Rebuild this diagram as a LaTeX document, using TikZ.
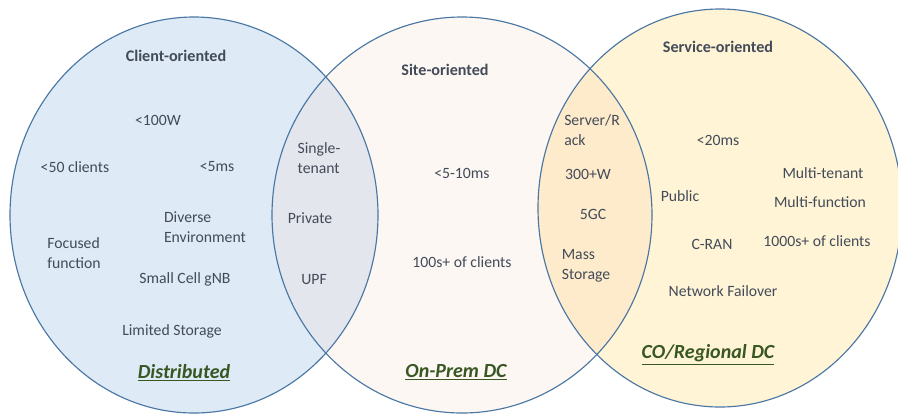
\documentclass[tikz,border=0pt]{standalone}
\usepackage{fontspec}
\setmainfont{Carlito}
\usepackage{xcolor}

\definecolor{distblue}{HTML}{DEEBF7}
\definecolor{prempink}{HTML}{FCF7F3}
\definecolor{coyellow}{HTML}{FFF4D6}
\definecolor{lensgray}{HTML}{E3E6EC}
\definecolor{lenspeach}{HTML}{FEEBCB}
\definecolor{rimblue}{HTML}{4A77A3}
\definecolor{txtgray}{HTML}{434B59}
\definecolor{tagreen}{HTML}{385723}

\tikzset{
  txt/.style={text=txtgray, inner sep=1pt, font=\fontsize{11}{14}\selectfont},
  txtl/.style={txt, align=left},
  head/.style={text=txtgray, inner sep=1pt, font=\fontsize{11.3}{13}\selectfont\bfseries},
  tag/.style={text=tagreen, inner sep=1pt, font=\fontsize{14}{16}\selectfont\bfseries\itshape}
}

\begin{document}
\begin{tikzpicture}[x=0.7pt, y=-0.7pt]
\useasboundingbox (0,0) rectangle (898,414);
\begin{scope}
\clip (0,0) rectangle (898,414);
% circle fills
\fill[distblue] (194,215) ellipse [x radius=184, y radius=198];
\fill[prempink] (462,215) ellipse [x radius=190, y radius=198];
\fill[coyellow] (720,208) ellipse [x radius=182, y radius=199];
% overlaps
\begin{scope}
  \clip (194,215) ellipse [x radius=184, y radius=198];
  \fill[lensgray] (462,215) ellipse [x radius=190, y radius=198];
\end{scope}
\begin{scope}
  \clip (720,208) ellipse [x radius=182, y radius=199];
  \fill[lenspeach] (462,215) ellipse [x radius=190, y radius=198];
\end{scope}
% outlines
\draw[rimblue, line width=0.8pt] (194,215) ellipse [x radius=184, y radius=198];
\draw[rimblue, line width=0.8pt] (462,215) ellipse [x radius=190, y radius=198];
\draw[rimblue, line width=0.8pt] (720,208) ellipse [x radius=182, y radius=199];
\end{scope}

% Distributed
\node[head] (clienthd) at (176,56) {Client-oriented};
\node[txt] (power1) at (158,120) {<100W};
\node[txt] (clients1) at (75,167) {<50 clients};
\node[txt] (lat1) at (217,167) {<5ms};
\node[txtl] (diverse) at (205,227) {Diverse\\Environment};
\node[txtl] (focused) at (74,253) {Focused\\function};
\node[txt] (gnb) at (185,279) {Small Cell gNB};
\node[txt] (storage1) at (172,331) {Limited Storage};
\node[tag] (disttag) at (184,373) {\underline{Distributed}};

% Distributed / On-Prem
\node[txtl] (single) at (319,158) {Single-\\tenant};
\node[txt] (private) at (310,218) {Private};
\node[txt] (upf) at (314,280) {UPF};

% On-Prem DC
\node[head] (sitehd) at (445,70) {Site-oriented};
\node[txt] (lat2) at (462,173) {<5-10ms};
\node[txt] (clients2) at (462,262) {100s+ of clients};
\node[tag] (premtag) at (456,372) {\underline{On-Prem DC}};

% On-Prem / CO
\node[txtl] (rack) at (592,130) {Server/R\\ack};
\node[txt] (power2) at (588,174) {300+W};
\node[txt] (fivegc) at (593,214) {5GC};
\node[txtl] (storage2) at (586,266) {Mass\\Storage};

% CO/Regional DC
\node[head] (servicehd) at (718,47) {Service-oriented};
\node[txt] (lat3) at (718,140) {<20ms};
\node[txt] (public) at (680,196) {Public};
\node[txt] (multit) at (823,173) {Multi-tenant};
\node[txt] (multif) at (820,202) {Multi-function};
\node[txt] (cran) at (712,244) {C-RAN};
\node[txt] (clients3) at (817,241) {1000s+ of clients};
\node[txt] (failover) at (723,291) {Network Failover};
\node[tag] (cotag) at (708,355) {\underline{CO/Regional DC}};
\end{tikzpicture}
\end{document}
